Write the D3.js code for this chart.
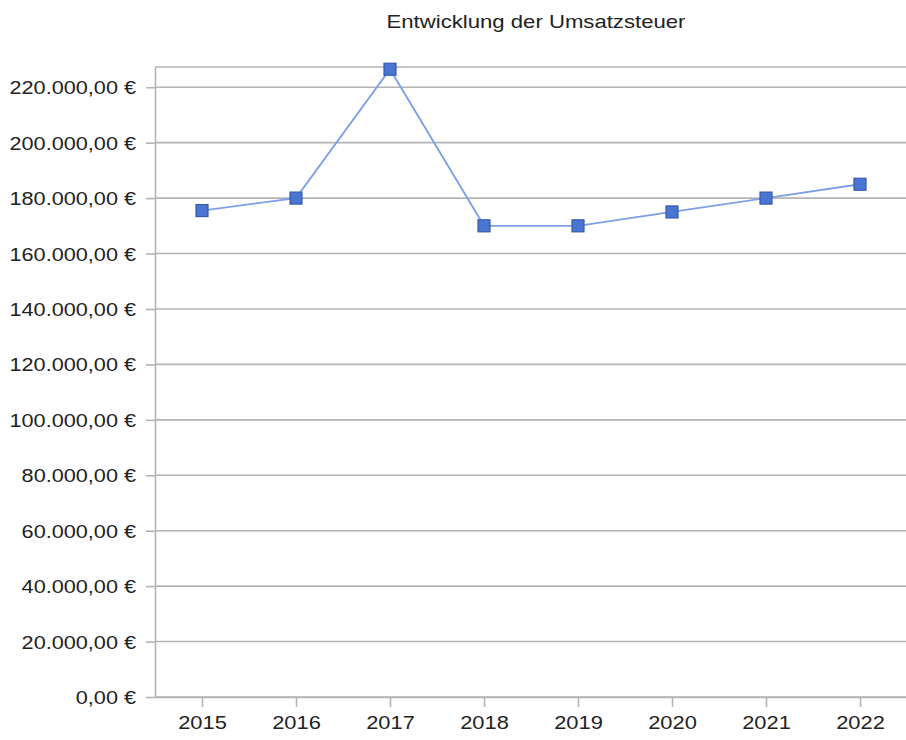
<!DOCTYPE html>
<html><head><meta charset="utf-8">
<script src="https://cdn.jsdelivr.net/npm/d3@7"></script>
<style>body{margin:0;background:#fff;}svg{display:block;font-family:"Liberation Sans",Arial,sans-serif;}</style>
</head><body>
<svg id="c" width="906" height="740"></svg>
<script>
const title = "Entwicklung der Umsatzsteuer";
const years = ["2015","2016","2017","2018","2019","2020","2021","2022"];
const values = [175500,180000,226500,170000,170000,175000,180000,185000];
const yTicks = [0,20000,40000,60000,80000,100000,120000,140000,160000,180000,200000,220000];

const svg = d3.select("#c");
const L = 155, R = 907, T = 67, B = 697;
const xp = d3.scalePoint().domain(years).range([L, R]).padding(0.5);
const y = d3.scaleLinear().domain([0, 227300]).range([B, T]);
const fmt = v => (v===0 ? "0,00 €" : d3.format(",.2f")(v).replace(/,/g,"#").replace(/\./g,",").replace(/#/g,".") + " €");
const stretch = (sel, k) => sel.each(function(){
  const w = this.getComputedTextLength();
  d3.select(this).attr("textLength", w*k).attr("lengthAdjust","spacingAndGlyphs");
});

// gridlines
svg.append("g").selectAll("line").data(yTicks.concat([227300])).join("line")
  .attr("x1", L).attr("x2", R).attr("y1", d=>y(d)).attr("y2", d=>y(d))
  .attr("stroke", "#b4b4b4").attr("stroke-width", 1.6);

// left axis
const ya = svg.append("g").attr("transform", `translate(${L},0)`)
  .call(d3.axisLeft(y).tickValues(yTicks).tickFormat(fmt).tickSize(9).tickSizeOuter(0).tickPadding(10));
ya.select(".domain").attr("stroke", "#b4b4b4").attr("stroke-width", 1.6);
ya.selectAll(".tick line").attr("stroke", "#b4b4b4").attr("stroke-width", 1.6);
ya.selectAll("text").attr("font-size", 19).attr("fill", "#222").attr("dy","0.34em");
stretch(ya.selectAll("text"), 1.14);

// bottom axis
const xa = svg.append("g").attr("transform", `translate(0,${B})`)
  .call(d3.axisBottom(xp).tickSize(10).tickSizeOuter(0).tickPadding(9));
xa.select(".domain").attr("stroke", "#b4b4b4").attr("stroke-width", 1.6);
xa.selectAll(".tick line").attr("stroke", "#b4b4b4").attr("stroke-width", 1.6);
xa.selectAll("text").attr("font-size", 19).attr("fill", "#222");
stretch(xa.selectAll("text"), 1.15);

// line
svg.append("path").datum(values)
  .attr("fill","none").attr("stroke","#7d9ee8").attr("stroke-width",1.8)
  .attr("d", d3.line().x((d,i)=>xp(years[i])).y(d=>y(d)));

// markers
const s = 12;
svg.append("g").selectAll("rect").data(values).join("rect")
  .attr("x",(d,i)=>xp(years[i])-s/2).attr("y",d=>y(d)-s/2)
  .attr("width",s).attr("height",s)
  .attr("fill","#4a76d2").attr("stroke","#3659ae").attr("stroke-width",1.2);

// title
const tt = svg.append("text").attr("x", 536).attr("y", 28).attr("text-anchor","middle")
  .attr("font-size", 19).attr("fill","#222").text(title);
stretch(tt, 1.165);
</script>
</body></html>
